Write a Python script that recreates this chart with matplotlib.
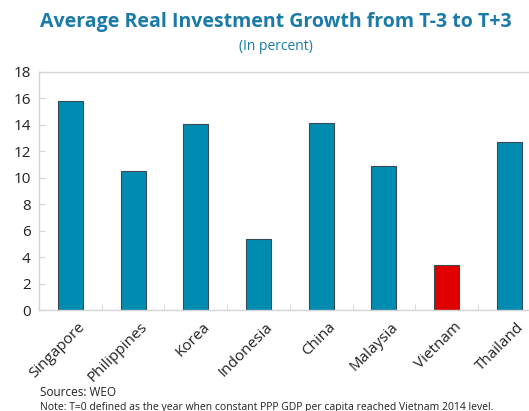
import matplotlib
matplotlib.use("Agg")
import matplotlib.pyplot as plt
import matplotlib.transforms as mtransforms
import numpy as np

plt.rcParams['font.family'] = ['Open Sans', 'DejaVu Sans']

countries = ['Singapore', 'Philippines', 'Korea', 'Indonesia', 'China',
             'Malaysia', 'Vietnam', 'Thailand']
growth = [15.8, 10.5, 14.05, 5.4, 14.1, 10.9, 3.4, 12.7]
highlight = 'Vietnam'

teal = '#008bb0'
red = '#e00000'
title_blue = '#1a7aa8'
frame_gray = '#d4d4d4'

fig = plt.figure(figsize=(5.29, 4.11), dpi=100)
# axes run a little past the right edge of the figure
ax = fig.add_axes([39 / 529, 1 - 310 / 411, 501.6 / 529, 238.3 / 411])

x = np.arange(len(countries))
colors = [red if c == highlight else teal for c in countries]
ax.bar(x, growth, width=0.4, color=colors, edgecolor='#3a4a55', linewidth=0.8)

ax.set_xlim(-0.5, len(countries) - 0.5)
ax.set_ylim(0, 18)
ax.set_yticks(np.arange(0, 19, 2))
ax.set_yticklabels([str(v) for v in range(0, 19, 2)], fontsize=11, color='#222222')
ax.tick_params(axis='y', direction='in', length=4, color=frame_gray, pad=6)

# category boundaries as minor ticks
ax.set_xticks(x)
ax.set_xticklabels(countries, rotation=45, ha='right', va='top',
                   rotation_mode='anchor', fontsize=11, color='#222222')
ax.tick_params(axis='x', which='major', length=0, pad=7)
ax.set_xticks(np.arange(0.5, len(countries) - 0.5, 1), minor=True)
ax.tick_params(axis='x', which='minor', direction='in', length=4, color=frame_gray)

# nudge the slanted labels a bit to the right
nudge = mtransforms.ScaledTranslation(7 / 100, 0, fig.dpi_scale_trans)
for lbl in ax.get_xticklabels():
    lbl.set_transform(lbl.get_transform() + nudge)

for s in ax.spines.values():
    s.set_color(frame_gray)
    s.set_linewidth(1.0)

fig.text(276 / 529, 1 - 22 / 411, 'Average Real Investment Growth from T-3 to T+3',
         ha='center', va='center', fontsize=14, fontweight='bold', color=title_blue)
fig.text(276 / 529, 1 - 46 / 411, '(In percent)', ha='center', va='center',
         fontsize=10, color=title_blue)

fig.text(40 / 529, 1 - 392 / 411, 'Sources: WEO', ha='left', va='center',
         fontsize=8.5, color='#222222')
fig.text(40 / 529, 1 - 407 / 411,
         'Note: T=0 defined as the year when constant PPP GDP per capita reached Vietnam 2014 level.',
         ha='left', va='center', fontsize=7.5, color='#222222')

fig.savefig('out.png', dpi=100)
